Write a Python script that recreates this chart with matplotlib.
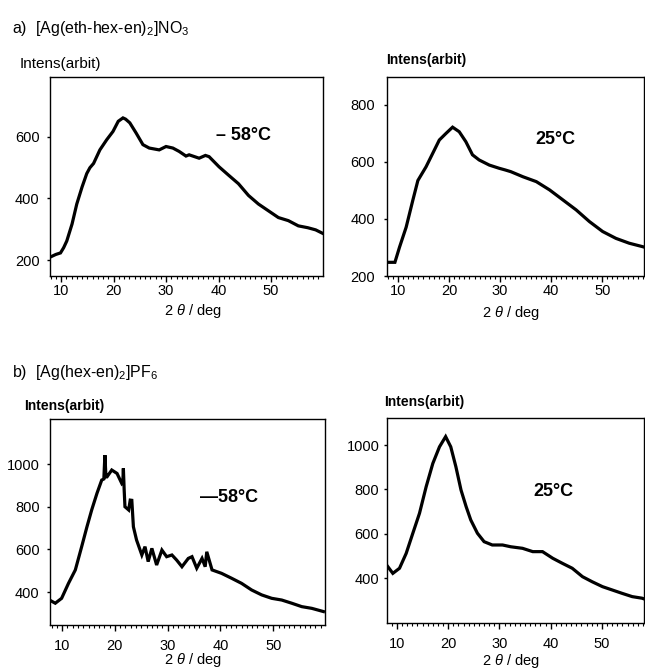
import matplotlib
matplotlib.use('Agg')
import matplotlib.pyplot as plt
from matplotlib.ticker import MultipleLocator

plt.rcParams['font.family'] = ['Liberation Sans', 'DejaVu Sans']
plt.rcParams['mathtext.fontset'] = 'custom'
plt.rcParams['mathtext.rm'] = 'Liberation Sans'
plt.rcParams['mathtext.it'] = 'Liberation Sans:italic'

# --- данные (2θ в градусах, интенсивность) ---
a_cold_x = [8.0, 9.0, 9.9, 10.5, 11.1, 12.1, 13.0, 14.0, 14.9, 15.5, 16.2, 17.4, 18.7, 19.9,
            20.9, 21.8, 22.3, 23.1, 24.3, 25.6, 26.8, 28.7, 30.0, 31.3, 32.5, 33.8, 34.4,
            36.3, 37.5, 38.2, 40.1, 41.9, 43.8, 45.7, 47.6, 49.5, 51.4, 53.3, 55.2, 57.0,
            58.5, 59.8]
a_cold_y = [210, 218, 223, 240, 262, 317, 382, 437, 481, 500, 514, 558, 591, 618,
            651, 662, 658, 646, 613, 575, 564, 558, 569, 564, 553, 538, 542,
            531, 540, 536, 503, 476, 448, 410, 382, 360, 338, 328, 311, 305,
            298, 287]

a_warm_x = [7.9, 9.4, 10.3, 11.6, 12.9, 13.9, 15.5, 16.8, 18.1, 19.4, 20.7, 22.0, 23.3,
            24.6, 25.9, 27.9, 29.8, 31.0, 32.1, 34.5, 37.1, 39.7, 42.3, 44.9, 47.5, 50.1,
            52.7, 55.3, 57.9, 58.5]
a_warm_y = [248, 248, 301, 371, 465, 535, 583, 630, 677, 700, 722, 706, 671,
            625, 607, 589, 578, 572, 566, 548, 531, 502, 467, 432, 391, 356,
            332, 315, 303, 300]

b_cold_x = [7.6, 8.7, 9.9, 11.2, 12.5, 13.7, 14.7, 15.6, 16.6, 17.5, 17.9, 18.1, 18.3,
            18.5, 19.4, 20.4, 21.3, 21.5, 21.6, 21.75, 21.9, 22.6, 22.9, 23.2, 23.5, 24.1,
            25.1, 25.7, 26.3, 27.0, 27.9, 28.9, 29.8, 30.8, 31.7, 32.7, 33.9, 34.6, 35.5,
            36.5, 37.1, 37.4, 38.4, 40.2, 42.1, 44.0, 45.9, 47.8, 49.7, 51.6, 53.5, 55.4,
            57.3, 59.5]
b_cold_y = [363, 348, 371, 441, 504, 613, 706, 785, 863, 925, 930, 1042, 940,
            940, 972, 956, 909, 915, 980, 880, 800, 785, 831, 830, 706, 644,
            574, 613, 543, 605, 527, 597, 566, 574, 550, 519, 558, 566, 512,
            558, 519, 589, 504, 488, 465, 441, 410, 387, 371, 363, 348, 332,
            324, 309]

b_warm_x = [8.1, 9.2, 10.5, 11.8, 13.1, 14.4, 15.7, 17.0, 18.3, 19.5, 20.5, 21.5, 22.5,
            23.5, 24.4, 25.7, 27.0, 28.6, 30.6, 32.2, 34.5, 36.5, 38.4, 40.4, 42.3, 44.2,
            46.2, 48.1, 50.1, 52.0, 53.9, 55.9, 57.8, 58.3]
b_warm_y = [455, 421, 444, 511, 602, 692, 812, 917, 992, 1038, 992, 902, 797,
            722, 662, 602, 564, 549, 549, 541, 534, 519, 519, 489, 466, 444,
            406, 383, 361, 346, 331, 316, 309, 305]

W, H = 645, 671
fig = plt.figure(figsize=(W / 100, H / 100), dpi=100)


def px_box(x0, y0, x1, y1):
    # пиксельная рамка -> доли фигуры
    return [x0 / W, 1 - y1 / H, (x1 - x0) / W, (y1 - y0) / H]


def fig_text(x, y, s, **kw):
    fig.text(x / W, 1 - y / H, s, **kw)


def make_panel(box, xs, ys, xlim, ylim, yticks, xpad, ypad):
    ax = fig.add_axes(px_box(*box))
    ax.plot(xs, ys, color='black', lw=2.3, solid_joinstyle='miter')
    ax.set_xlim(*xlim)
    ax.set_ylim(*ylim)
    ax.set_yticks(yticks)
    ax.xaxis.set_major_locator(MultipleLocator(10))
    ax.xaxis.set_minor_locator(MultipleLocator(1))
    ax.tick_params(axis='x', which='major', direction='out', length=4, width=1,
                   pad=xpad, labelsize=10.5)
    ax.tick_params(axis='x', which='minor', direction='out', length=2.2, width=0.8)
    ax.tick_params(axis='y', which='major', direction='out', length=2.5, width=1,
                   pad=ypad, labelsize=10.5)
    for sp in ax.spines.values():
        sp.set_linewidth(1.0)
    return ax


make_panel((50, 77, 323, 276), a_cold_x, a_cold_y, (7.9, 59.9), (148, 795),
           [200, 400, 600], 1.5, 5)
make_panel((387, 77, 644, 276), a_warm_x, a_warm_y, (7.85, 58.2), (200, 898),
           [200, 400, 600, 800], 1.5, 6)
make_panel((50, 419, 325, 625), b_cold_x, b_cold_y, (7.7, 59.8), (246, 1211),
           [400, 600, 800, 1000], 6, 5)
make_panel((387, 418, 644, 623), b_warm_x, b_warm_y, (8.06, 58.2), (197, 1122),
           [400, 600, 800, 1000], 6, 3)

# заголовки
fig_text(12, 33, 'a)  [Ag(eth-hex-en)$_2$]NO$_3$', fontsize=11.5, va='baseline')
fig_text(12, 377, 'b)  [Ag(hex-en)$_2$]PF$_6$', fontsize=11.5, va='baseline')

# подписи осей Y
fig_text(20, 68, 'Intens(arbit)', fontsize=11, va='baseline')
fig_text(386, 64, 'Intens(arbit)', fontsize=10, fontweight='bold', va='baseline')
fig_text(24, 410, 'Intens(arbit)', fontsize=10, fontweight='bold', va='baseline')
fig_text(384, 406, 'Intens(arbit)', fontsize=10, fontweight='bold', va='baseline')

# подписи осей X
for cx, cy in [(193, 311), (511, 313), (193, 660), (511, 661)]:
    fig_text(cx, cy, '2 $\\it{\\theta}$ / deg', fontsize=10.5, ha='center', va='center')

# температуры
fig_text(244, 136, '\u2013 58\u00b0C', fontsize=13, fontweight='bold', ha='center', va='center')
fig_text(555, 140, '25\u00b0C', fontsize=13, fontweight='bold', ha='center', va='center')
fig_text(229, 498, '\u201458\u00b0C', fontsize=13, fontweight='bold', ha='center', va='center')
fig_text(553, 492, '25\u00b0C', fontsize=13, fontweight='bold', ha='center', va='center')

fig.savefig('out.png', dpi=100, facecolor='white')
